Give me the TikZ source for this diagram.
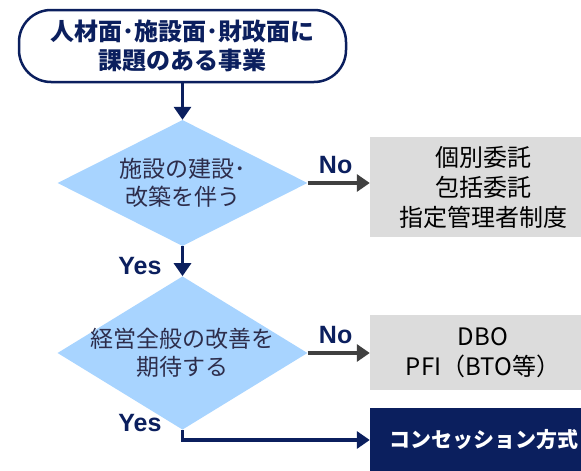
\documentclass[tikz,border=0pt]{standalone}
\usepackage{fontspec}
\setmainfont{Noto Sans CJK JP}
\newfontfamily\arialfont{Liberation Sans}
\usetikzlibrary{shapes.geometric,arrows.meta}
\definecolor{navy}{RGB}{11,31,94}
\definecolor{lightblue}{RGB}{168,212,255}
\definecolor{resultgray}{RGB}{220,220,220}
\definecolor{arrowgray}{RGB}{64,64,64}
\definecolor{asktext}{RGB}{45,45,75}
\tikzset{
  startbox/.style={draw=navy, line width=2.5pt, rounded corners=32pt, fill=white,
    minimum width=327pt, minimum height=72pt, align=center, text=navy,
    font=\fontsize{24}{29}\selectfont\bfseries},
  decision/.style={diamond, fill=lightblue, inner xsep=-40pt, inner ysep=0pt,
    minimum width=250pt, minimum height=126pt, align=center, text=asktext,
    font=\fontsize{23}{28}\selectfont},
  result/.style={fill=resultgray, minimum width=226pt, align=center, text=black,
    font=\fontsize{24}{30}\selectfont},
  final/.style={fill=navy, minimum width=228pt, minimum height=64pt, text=white,
    font=\fontsize{21}{25}\selectfont\bfseries},
  flow/.style={draw=navy, line width=3.5pt, -{Triangle[width=17pt,length=13pt]}},
  noflow/.style={draw=arrowgray, line width=3.5pt, -{Triangle[width=17pt,length=13pt]}},
  answer/.style={text=navy, font=\arialfont\bfseries\fontsize{25}{25}\selectfont}
}
\begin{document}
\begin{tikzpicture}[x=1pt, y=-1pt]
  \useasboundingbox (0,0) rectangle (581,471);
  \clip (0,0) rectangle (581,471);
  % nodes
  \node[startbox] (start) at (182.5,46) {人材面･施設面･財政面に\\課題のある事業};
  \node[decision] (ask1) at (182.5,183) {施設の建設･\\改築を伴う};
  \node[decision] (ask2) at (182.5,353) {経営全般の改善を\\期待する};
  \node[result, minimum height=100pt] (res1) at (483,187) {個別委託\\包括委託\\指定管理者制度};
  \node[result, minimum height=75pt] (res2) at (483,352.5) {DBO\\PFI（BTO等）};
  \node[final] (res3) at (484,440) {コンセッション方式};
  % arrows
  \draw[flow] (start) -- (ask1);
  \draw[flow] (ask1) -- (ask2) node[answer, pos=0.45, left=16pt, yshift=-6pt] {Yes};
  \draw[noflow] (ask1.east) -- (ask1.east -| res1.west) node[answer, pos=0.45, above=4pt] {No};
  \draw[noflow] (ask2.east) -- (ask2.east -| res2.west) node[answer, pos=0.45, above=4pt] {No};
  \draw[flow] (ask2.south) |- (res3.west) node[answer, pos=0.1, left=16pt, yshift=9pt] {Yes};
\end{tikzpicture}
\end{document}
